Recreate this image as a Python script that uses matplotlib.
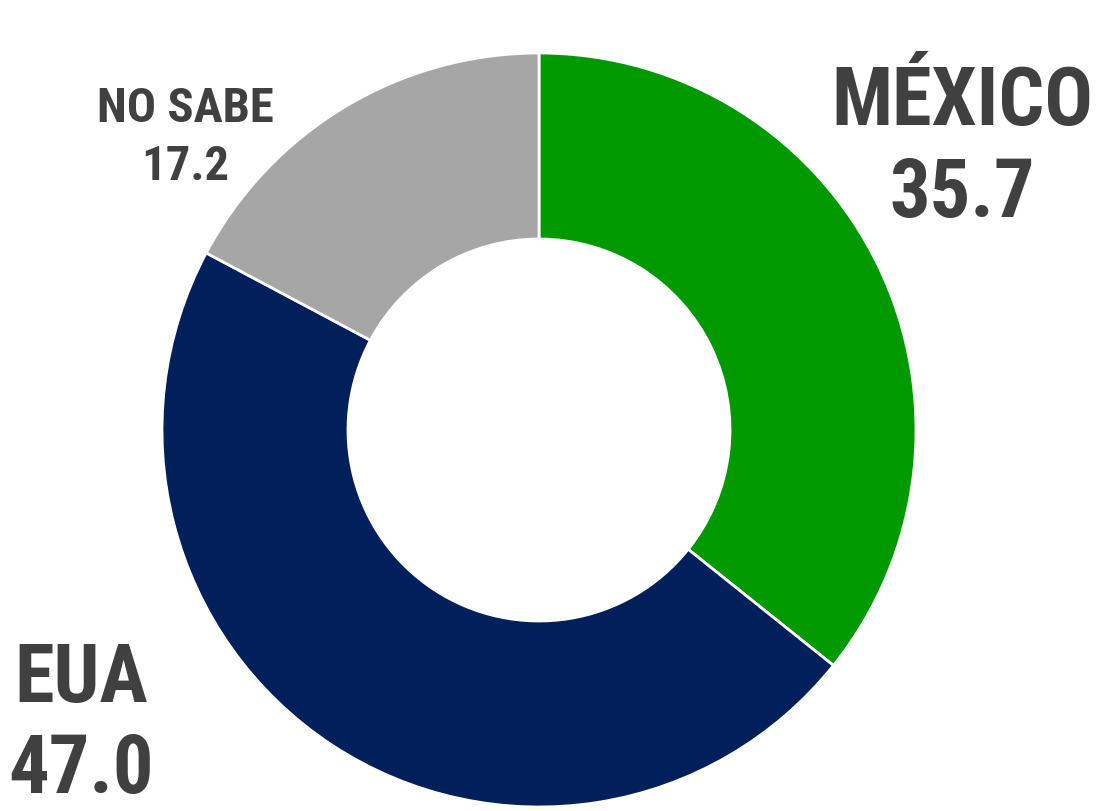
import matplotlib.pyplot as plt

# donut data, clockwise from 12 o'clock
categorias = ['MÉXICO', 'EUA', 'NO SABE']
valores = [35.7, 47.0, 17.2]
colores = ['#009900', '#001F5B', '#A6A6A6']

W, H = 1099, 811
fig = plt.figure(figsize=(W / 100, H / 100), dpi=100)

# pie centred at (539, 430) px, radius 377 px
cx, cy, r = 539, 430, 377
ax = fig.add_axes([(cx - r) / W, (H - cy - r) / H, 2 * r / W, 2 * r / H])
ax.pie(valores, colors=colores, startangle=90, counterclock=False, radius=1,
       wedgeprops=dict(width=1 - 191 / 377, edgecolor='white', linewidth=2))
ax.set_xlim(-1, 1)
ax.set_ylim(-1, 1)
ax.set_aspect('equal')
ax.axis('off')

fuente = ['Roboto Condensed', 'DejaVu Sans']
gris = '#404040'

def etiqueta(x, y1, y2, nombre, valor, size):
    fig.text(x / W, 1 - y1 / H, nombre, ha='center', va='baseline',
             fontsize=size, fontweight='bold', color=gris, family=fuente)
    fig.text(x / W, 1 - y2 / H, f'{valor:.1f}', ha='center', va='baseline',
             fontsize=size, fontweight='bold', color=gris, family=fuente)

etiqueta(962, 125, 217, categorias[0], valores[0], 58)
etiqueta(81, 702, 793, categorias[1], valores[1], 58)
etiqueta(185, 122, 180, categorias[2], valores[2], 35)

fig.savefig('out.png', dpi=100)
